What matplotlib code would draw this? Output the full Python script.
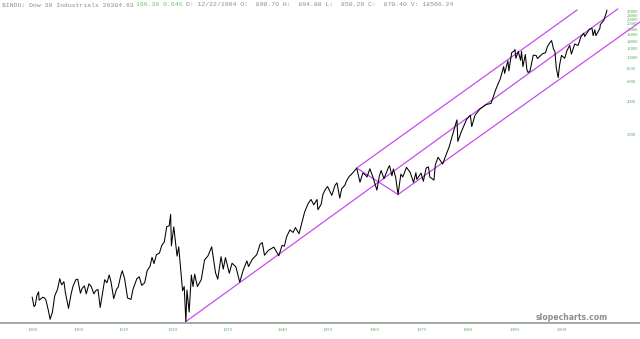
import numpy as np
from matplotlib import pyplot as plt

# Dow 30 Industrials, approximate turning points (year, close)
years = [1900.0, 1900.4, 1900.7, 1901.0, 1901.4, 1901.5, 1901.9, 1902.3, 1902.7, 1903.0,
         1903.5, 1903.9, 1904.4, 1904.9, 1905.5, 1906.0, 1906.4, 1906.9, 1907.2, 1907.9,
         1908.5, 1908.9, 1909.5, 1909.9, 1910.5, 1910.9, 1911.4, 1911.8, 1912.4, 1912.9,
         1913.5, 1913.9, 1914.4, 1914.9, 1915.5, 1915.9, 1916.4, 1916.9, 1917.3, 1917.9,
         1918.5, 1918.9, 1919.5, 1919.8, 1920.3, 1920.9, 1921.6, 1922.0, 1922.8, 1923.3,
         1923.8, 1924.4, 1924.9, 1925.5, 1925.9, 1926.3, 1926.8, 1927.4, 1927.9, 1928.4,
         1928.9, 1929.4, 1929.7, 1929.85, 1930.3, 1930.9, 1931.2, 1931.9, 1932.2, 1932.5,
         1932.7, 1933.1, 1933.5, 1933.8, 1934.1, 1934.6, 1935.3, 1935.9, 1936.5, 1937.2,
         1937.9, 1938.3, 1938.9, 1939.3, 1939.7, 1940.4, 1940.9, 1941.6, 1942.3, 1942.9,
         1943.6, 1943.9, 1944.6, 1945.4, 1946.0, 1946.4, 1946.8, 1947.5, 1948.5, 1949.4,
         1950.0, 1950.5, 1951.0, 1951.7, 1952.4, 1952.9, 1953.7, 1954.4, 1954.9, 1955.7,
         1956.3, 1956.9, 1957.6, 1957.8, 1958.5, 1958.9, 1959.5, 1959.9, 1960.8, 1961.5,
         1961.9, 1962.5, 1962.9, 1963.6, 1963.9, 1964.5, 1964.9, 1966.1, 1966.8, 1967.4,
         1967.9, 1968.3, 1968.9, 1969.5, 1970.4, 1970.9, 1971.3, 1971.9, 1972.9, 1973.1,
         1973.6, 1973.9, 1974.4, 1974.9, 1975.5, 1975.9, 1976.7, 1977.5, 1978.2, 1978.7,
         1978.9, 1979.8, 1980.3, 1980.9, 1981.4, 1981.7, 1982.6, 1982.9, 1983.5, 1984.5,
         1984.9, 1985.9, 1986.5, 1987.2, 1987.6, 1987.8, 1988.5, 1989.7, 1990.5, 1990.8,
         1991.5, 1992.5, 1993.9, 1994.9, 1995.9, 1996.9, 1997.6, 1997.8, 1998.5, 1998.7,
         1999.3, 1999.9, 2000.0, 2000.2, 2000.7, 2001.2, 2001.4, 2001.7, 2002.2, 2002.55,
         2002.8, 2003.2, 2003.9, 2004.5, 2004.8, 2005.9, 2006.5, 2006.9, 2007.4, 2007.8,
         2008.2, 2008.5, 2008.8, 2009.2, 2009.5, 2009.9, 2010.5, 2010.9, 2011.4, 2011.7,
         2012.3, 2012.9, 2013.4, 2013.9, 2014.1, 2014.9, 2015.4, 2015.6, 2015.9, 2016.1,
         2016.8, 2016.9, 2017.5, 2017.9, 2018.07]
close = [68, 56, 58, 70, 76, 64, 66, 68, 67, 64,
         52, 43, 50, 70, 80, 100, 88, 94, 76, 54,
         74, 86, 98, 99, 74, 82, 86, 73, 90, 85,
         73, 78, 80, 55, 78, 98, 92, 108, 94, 66,
         80, 84, 108, 118, 100, 67, 65, 80, 100, 104,
         87, 92, 118, 130, 156, 137, 165, 170, 200, 215,
         295, 300, 381, 198, 294, 160, 194, 78, 85, 41,
         79, 50, 108, 85, 110, 85, 98, 148, 160, 194,
         113, 99, 158, 122, 155, 112, 138, 128, 93, 118,
         145, 129, 150, 165, 205, 212, 163, 180, 193, 161,
         200, 197, 240, 276, 262, 290, 255, 330, 400, 480,
         520, 465, 520, 420, 470, 580, 650, 680, 566, 700,
         734, 535, 650, 700, 760, 840, 870, 995, 744, 900,
         870, 830, 985, 840, 631, 840, 950, 800, 1020, 1051,
         850, 980, 820, 577, 880, 830, 1014, 910, 742, 907,
         790, 900, 759, 1000, 1024, 830, 777, 1070, 1250, 1086,
         1210, 1550, 1900, 2400, 2722, 1738, 2100, 2750, 3000, 2365,
         3000, 3400, 3750, 3830, 5100, 6450, 8250, 7160, 9300, 7540,
         11000, 11500, 11720, 9800, 11300, 9400, 11300, 8240, 10600, 7700,
         7290, 7500, 10450, 10400, 9750, 10800, 11000, 12450, 13500, 14160,
         11900, 11300, 8000, 6550, 8500, 10400, 9800, 11500, 12800, 10700,
         13200, 12800, 15300, 16500, 15400, 17900, 18300, 15700, 17700, 15700,
         18200, 19800, 21500, 24700, 26600]

# channel lines (year, value) endpoints
lower_years = [1932.5, 2020.0]
lower_vals = [41, 27300]
upper_years = [1966.1, 2012.7]
upper_vals = [1000, 26700]
vee_years = [1966.1, 1974.9]
vee_vals = [1000, 577]
mid_years = [1974.9, 2024.0]
mid_vals = [577, 20850]

xtick_years = [1900, 1910, 1920, 1930, 1940, 1950, 1960, 1970, 1980, 1990, 2000, 2010]
xtick_labels = ['1900', '1909', '1919', '1929', '1939', '1949', '1959', '1969',
                '1979', '1989', '1999', '2009']
ytick_vals = [2000, 4000, 6000, 8000, 10000, 12000, 14000, 16000, 18000, 20000,
              22000, 24000, 26000]

# uneven bar spacing of the chart: year -> pixel column
scale_years = [1893] + xtick_years + [2018.07, 2030]
scale_px = [-0.2, 32, 78, 123, 172, 227, 282, 328, 375, 422, 468, 515, 562, 607, 673.6]


def fwd(x):
    return np.interp(x, scale_years, scale_px)


def inv(p):
    return np.interp(p, scale_px, scale_years)


fig = plt.figure(figsize=(6.4, 3.39), dpi=100)
ax = fig.add_axes([0, 16 / 339, 1, 323 / 339])
ax.set_xscale('function', functions=(fwd, inv))
ax.set_yscale('log')
ax.set_xlim(1893, 2024)
ax.set_ylim(39.8, 32940)

pink = '#c94cf0'
ax.plot(lower_years, lower_vals, color=pink, lw=0.9)
ax.plot(upper_years, upper_vals, color=pink, lw=0.9)
ax.plot(vee_years, vee_vals, color=pink, lw=0.9)
ax.plot(mid_years, mid_vals, color=pink, lw=0.9)
ax.plot(years, close, color='black', lw=0.75)

green = '#5aae5a'
ax.set_xticks(xtick_years)
ax.set_xticklabels(xtick_labels)
ax.minorticks_off()
ax.yaxis.tick_right()
ax.set_yticks(ytick_vals)
ax.set_yticklabels([str(v) for v in ytick_vals])
ax.tick_params(axis='x', length=0, pad=3.5, labelsize=3.6, labelcolor=green)
ax.tick_params(axis='y', length=0, pad=-9.5, labelsize=3.4, labelcolor=green)
for lab in ax.get_xticklabels() + ax.get_yticklabels():
    lab.set_family('Liberation Serif')

for s in ['top', 'left', 'right']:
    ax.spines[s].set_visible(False)
ax.spines['bottom'].set_color('#a0a0a0')
ax.spines['bottom'].set_linewidth(1.3)

# header line in three monospace pieces
hsize = 4.6
char_px = 0.6 * hsize * 100 / 72
head1 = '$INDU: Dow 30 Industrials 26384.63'
head2 = '166.30 0.64%'
head3 = 'D: 12/22/1964 O:  890.70 H:  894.80 L:  850.20 C:  870.40 V: 18566.24'
x0 = 2
for txt, col, start in [(head1, '#8c8c8c', 0), (head2, '#6cbf6c', 35),
                        (head3, '#8c8c8c', 48)]:
    fig.text((x0 + start * char_px) / 640, 1 - 5 / 339, txt, family='Liberation Mono',
             fontsize=hsize, color=col, va='center', ha='left')

fig.text(572 / 640, 1 - 318 / 339, 'slopecharts.com', fontsize=5.6, weight='bold',
         color='#8e8e8e', ha='center', va='center')

plt.savefig('out.png', dpi=100)
